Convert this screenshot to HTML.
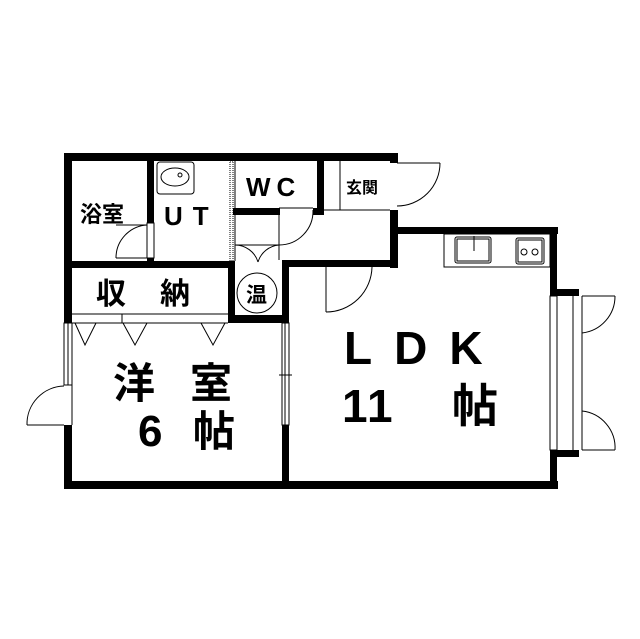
<!DOCTYPE html>
<html><head><meta charset="utf-8"><style>
html,body{margin:0;padding:0;background:#fff;}
svg{display:block;}
text{font-family:"Liberation Sans","Noto Sans CJK JP",sans-serif;fill:#000;font-weight:bold;}
</style></head><body>
<svg width="640" height="639" viewBox="0 0 640 639" xmlns="http://www.w3.org/2000/svg">
<g fill="#000">
<rect x="64" y="153" width="334" height="8"/>
<rect x="64" y="153" width="8" height="170"/>
<rect x="64" y="425" width="8" height="64"/>
<rect x="64" y="481" width="494" height="8"/>
<rect x="147" y="153" width="7" height="70"/>
<rect x="147" y="258" width="7" height="8"/>
<rect x="230" y="153" width="5" height="8"/>
<rect x="233" y="208" width="47" height="7"/>
<rect x="313" y="208" width="10" height="7"/>
<rect x="317" y="153" width="7" height="62"/>
<rect x="390" y="153" width="8" height="10"/>
<rect x="390" y="210" width="8" height="58"/>
<rect x="390" y="227" width="168" height="7"/>
<rect x="282" y="260" width="116" height="7"/>
<rect x="64" y="261" width="171" height="7"/>
<rect x="228" y="261" width="7" height="62"/>
<rect x="228" y="315" width="60" height="8"/>
<rect x="282" y="260" width="7" height="63"/>
<rect x="282" y="425" width="7" height="64"/>
<rect x="550" y="227" width="7" height="70"/>
<rect x="550" y="289" width="29" height="7"/>
<rect x="550" y="450" width="29" height="7"/>
<rect x="550" y="450" width="7" height="39"/>
</g>
<g fill="none" stroke="#000" stroke-width="1">
<rect x="230" y="161" width="3" height="100" stroke-dasharray="1 1"/>
<line x1="235" y1="161" x2="235" y2="261"/>
<line x1="340" y1="161" x2="340" y2="210"/>
<line x1="324" y1="210" x2="390" y2="210"/>
<line x1="397" y1="163" x2="440" y2="163"/>
<path d="M440 163 A43 43 0 0 1 397 206"/>
<rect x="147" y="223" width="7" height="35"/>
<line x1="147" y1="225" x2="116" y2="225"/>
<path d="M116 258 A33 33 0 0 1 147 225"/>
<line x1="116" y1="258" x2="147" y2="258"/>
<line x1="279" y1="208" x2="279" y2="260"/>
<line x1="279" y1="208" x2="313" y2="208"/>
<path d="M313 210 A34 34 0 0 1 279 245"/>
<line x1="235" y1="245" x2="279" y2="245"/>
<path d="M235 245 A24 24 0 0 1 258 262"/>
<path d="M279 245 A24 24 0 0 0 258 262"/>
<line x1="326" y1="267" x2="326" y2="312"/>
<path d="M372 267 A46 46 0 0 1 326 312"/>
<circle cx="257" cy="293" r="20"/>
<rect x="157" y="162" width="37" height="32" rx="3"/>
<ellipse cx="175" cy="177" rx="14" ry="9"/>
<circle cx="180" cy="175" r="2"/>
<line x1="72" y1="314" x2="228" y2="314"/>
<line x1="72" y1="323" x2="228" y2="323"/>
<line x1="122" y1="314" x2="122" y2="323"/>
<path d="M75 323 L85 345 L96 323"/>
<path d="M123 323 L135 345 L147 323"/>
<path d="M201 323 L213 345 L225 323"/>
<rect x="64" y="323" width="8" height="62"/>
<line x1="68" y1="323" x2="68" y2="385"/>
<line x1="72" y1="385" x2="72" y2="425"/>
<line x1="27" y1="425" x2="64" y2="425"/>
<path d="M27 425 A38 38 0 0 1 64 386"/>
<rect x="282" y="323" width="7" height="102"/>
<line x1="285" y1="323" x2="285" y2="425"/>
<line x1="279" y1="375" x2="292" y2="375"/>
<rect x="444" y="234" width="106" height="33"/>
<rect x="455" y="237" width="36" height="26" rx="2"/>
<rect x="457" y="239" width="32" height="22"/>
<line x1="474" y1="236" x2="474" y2="251"/>
<rect x="516" y="238" width="28" height="26" rx="2"/>
<rect x="518" y="240" width="24" height="22"/>
<circle cx="524" cy="252" r="3"/>
<circle cx="535" cy="252" r="3"/>
<rect x="550" y="296" width="7" height="154" fill="#fff"/>
<line x1="550" y1="296" x2="550" y2="450"/>
<line x1="557" y1="296" x2="557" y2="450"/>
<line x1="573" y1="296" x2="573" y2="450"/>
<line x1="582" y1="296" x2="582" y2="450"/>
<line x1="582" y1="296" x2="615" y2="296"/>
<path d="M615 296 A37 37 0 0 1 582 333"/>
<line x1="582" y1="411" x2="582" y2="450"/>
<path d="M582 411 A37 37 0 0 1 615 450"/>
<line x1="582" y1="450" x2="615" y2="450"/>
</g>
<text x="80" y="222" font-size="22">浴室</text>
<text x="164" y="225" font-size="26" letter-spacing="10" font-weight="normal">UT</text>
<text x="246" y="196" font-size="26" letter-spacing="6">WC</text>
<text x="346" y="193" font-size="16" font-weight="normal">玄関</text>
<text x="96" y="304" font-size="30" letter-spacing="34">収納</text>
<text x="246" y="302" font-size="21">温</text>
<text x="113" y="398" font-size="42">洋</text>
<text x="190" y="398" font-size="42">室</text>
<text x="138" y="446" font-size="44">6</text>
<text x="193" y="446" font-size="42">帖</text>
<text x="344" y="364" font-size="46" letter-spacing="22">LDK</text>
<text x="342" y="422" font-size="46" letter-spacing="2">11</text>
<text x="452" y="422" font-size="46">帖</text>
</svg>
</body></html>
